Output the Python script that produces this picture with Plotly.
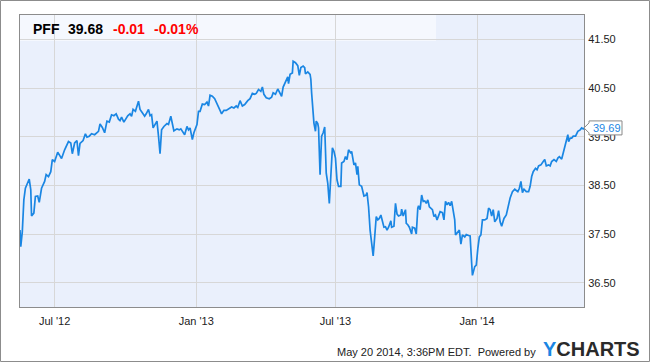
import plotly.graph_objects as go

ticker = "PFF"
last_price = "39.68"
change = "-0.01"
change_pct = "-0.01%"
last_label = 39.69
stamp = "May 20 2014, 3:36PM EDT.  Powered by"

dates = [
    "2012-05-17", "2012-05-18", "2012-05-20", "2012-05-22", "2012-05-24", "2012-05-29", "2012-05-31", "2012-06-01", "2012-06-04", "2012-06-06",
    "2012-06-09", "2012-06-11", "2012-06-14", "2012-06-18", "2012-06-20", "2012-06-23", "2012-06-26", "2012-06-28", "2012-07-01", "2012-07-05",
    "2012-07-07", "2012-07-10", "2012-07-14", "2012-07-19", "2012-07-22", "2012-07-24", "2012-07-27", "2012-07-30", "2012-08-01", "2012-08-03",
    "2012-08-07", "2012-08-10", "2012-08-12", "2012-08-15", "2012-08-18", "2012-08-22", "2012-08-27", "2012-08-29", "2012-09-01", "2012-09-04",
    "2012-09-07", "2012-09-10", "2012-09-13", "2012-09-16", "2012-09-19", "2012-09-22", "2012-09-24", "2012-09-26", "2012-09-29", "2012-10-02",
    "2012-10-04", "2012-10-07", "2012-10-09", "2012-10-11", "2012-10-14", "2012-10-18", "2012-10-20", "2012-10-23", "2012-10-26", "2012-10-28",
    "2012-10-31", "2012-11-02", "2012-11-04", "2012-11-06", "2012-11-09", "2012-11-11", "2012-11-13", "2012-11-15", "2012-11-17", "2012-11-20",
    "2012-11-24", "2012-11-26", "2012-11-29", "2012-12-01", "2012-12-03", "2012-12-07", "2012-12-10", "2012-12-12", "2012-12-15", "2012-12-17",
    "2012-12-20", "2012-12-22", "2012-12-24", "2012-12-26", "2012-12-27", "2012-12-29", "2013-01-02", "2013-01-04", "2013-01-06", "2013-01-09",
    "2013-01-12", "2013-01-15", "2013-01-17", "2013-01-19", "2013-01-22", "2013-01-25", "2013-01-29", "2013-02-01", "2013-02-03", "2013-02-06",
    "2013-02-09", "2013-02-13", "2013-02-16", "2013-02-19", "2013-02-22", "2013-02-24", "2013-02-27", "2013-03-02", "2013-03-05", "2013-03-09",
    "2013-03-12", "2013-03-15", "2013-03-18", "2013-03-20", "2013-03-23", "2013-03-26", "2013-03-28", "2013-03-30", "2013-04-02", "2013-04-06",
    "2013-04-09", "2013-04-11", "2013-04-14", "2013-04-17", "2013-04-19", "2013-04-22", "2013-04-24", "2013-04-27", "2013-04-30", "2013-05-01",
    "2013-05-03", "2013-05-06", "2013-05-07", "2013-05-10", "2013-05-13", "2013-05-15", "2013-05-17", "2013-05-20", "2013-05-22", "2013-05-23",
    "2013-05-26", "2013-05-29", "2013-05-30", "2013-05-31", "2013-06-02", "2013-06-03", "2013-06-05", "2013-06-06", "2013-06-08", "2013-06-09",
    "2013-06-11", "2013-06-13", "2013-06-15", "2013-06-17", "2013-06-19", "2013-06-21", "2013-06-23", "2013-06-25", "2013-06-27", "2013-06-29",
    "2013-07-01", "2013-07-03", "2013-07-05", "2013-07-08", "2013-07-09", "2013-07-12", "2013-07-14", "2013-07-16", "2013-07-18", "2013-07-21",
    "2013-07-22", "2013-07-25", "2013-07-27", "2013-07-29", "2013-07-30", "2013-08-01", "2013-08-04", "2013-08-07", "2013-08-10", "2013-08-11",
    "2013-08-13", "2013-08-15", "2013-08-17", "2013-08-19", "2013-08-20", "2013-08-23", "2013-08-25", "2013-08-27", "2013-08-29", "2013-08-31",
    "2013-09-02", "2013-09-04", "2013-09-06", "2013-09-08", "2013-09-11", "2013-09-12", "2013-09-15", "2013-09-17", "2013-09-19", "2013-09-21",
    "2013-09-24", "2013-09-25", "2013-09-27", "2013-09-30", "2013-10-01", "2013-10-03", "2013-10-05", "2013-10-08", "2013-10-09", "2013-10-12",
    "2013-10-14", "2013-10-16", "2013-10-17", "2013-10-19", "2013-10-21", "2013-10-23", "2013-10-25", "2013-10-27", "2013-10-29", "2013-10-31",
    "2013-11-02", "2013-11-04", "2013-11-06", "2013-11-08", "2013-11-10", "2013-11-12", "2013-11-14", "2013-11-17", "2013-11-19", "2013-11-21",
    "2013-11-23", "2013-11-25", "2013-11-27", "2013-11-29", "2013-12-01", "2013-12-03", "2013-12-04", "2013-12-07", "2013-12-09", "2013-12-11",
    "2013-12-13", "2013-12-16", "2013-12-18", "2013-12-21", "2013-12-23", "2013-12-25", "2013-12-26", "2013-12-29", "2013-12-31", "2014-01-02",
    "2014-01-04", "2014-01-06", "2014-01-08", "2014-01-11", "2014-01-14", "2014-01-16", "2014-01-18", "2014-01-20", "2014-01-22", "2014-01-24",
    "2014-01-27", "2014-01-29", "2014-01-31", "2014-02-02", "2014-02-05", "2014-02-08", "2014-02-10", "2014-02-13", "2014-02-16", "2014-02-19",
    "2014-02-23", "2014-02-25", "2014-02-27", "2014-03-01", "2014-03-03", "2014-03-06", "2014-03-09", "2014-03-11", "2014-03-13", "2014-03-15",
    "2014-03-18", "2014-03-20", "2014-03-22", "2014-03-25", "2014-03-28", "2014-03-30", "2014-04-01", "2014-04-04", "2014-04-06", "2014-04-08",
    "2014-04-11", "2014-04-14", "2014-04-16", "2014-04-18", "2014-04-21", "2014-04-23", "2014-04-25", "2014-04-27", "2014-04-29", "2014-04-30",
    "2014-05-02", "2014-05-04", "2014-05-06", "2014-05-09", "2014-05-12", "2014-05-15", "2014-05-17", "2014-05-19", "2014-05-20",
]

prices = [
    37.58, 37.24, 37.55, 38.20, 38.44, 38.63, 38.41, 37.87, 37.93, 38.27,
    38.28, 38.15, 38.44, 38.58, 38.72, 38.68, 38.78, 39.03, 38.99, 39.18,
    39.13, 39.05, 39.23, 39.40, 39.37, 39.15, 39.37, 39.42, 39.11, 39.36,
    39.42, 39.56, 39.49, 39.51, 39.56, 39.54, 39.61, 39.76, 39.69, 39.58,
    39.82, 39.80, 39.95, 39.93, 39.97, 39.86, 39.83, 39.90, 39.80, 39.87,
    39.93, 39.97, 39.92, 40.06, 40.02, 40.23, 40.06, 39.99, 39.92, 39.97,
    40.06, 39.93, 39.95, 39.68, 39.75, 39.82, 39.51, 39.15, 39.64, 39.71,
    39.77, 39.75, 39.92, 39.75, 39.62, 39.66, 39.64, 39.66, 39.58, 39.54,
    39.71, 39.64, 39.68, 39.47, 39.44, 39.58, 39.75, 40.02, 40.02, 40.17,
    40.16, 40.21, 40.13, 40.35, 40.33, 40.28, 40.16, 40.04, 39.97, 40.04,
    40.04, 40.08, 40.11, 40.09, 40.13, 40.10, 40.24, 40.13, 40.16, 40.24,
    40.28, 40.39, 40.37, 40.39, 40.47, 40.43, 40.52, 40.37, 40.30, 40.28,
    40.31, 40.40, 40.37, 40.48, 40.43, 40.33, 40.52, 40.64, 40.73, 40.59,
    40.78, 40.81, 41.05, 41.02, 40.96, 40.76, 40.92, 40.95, 40.92, 40.79,
    40.83, 40.78, 40.68, 40.40, 39.85, 39.78, 39.61, 39.82, 39.77, 39.68,
    38.72, 39.51, 39.58, 39.70, 38.75, 38.54, 38.13, 38.82, 39.27, 39.20,
    39.06, 38.61, 38.48, 38.48, 38.96, 38.99, 39.09, 39.03, 39.23, 39.16,
    39.20, 38.92, 38.96, 38.72, 38.89, 38.51, 38.48, 38.28, 38.30, 38.35,
    38.06, 37.58, 37.24, 37.05, 37.24, 37.86, 37.79, 37.82, 37.89, 37.75,
    37.64, 37.65, 37.58, 37.64, 37.77, 37.64, 37.66, 38.13, 37.91, 37.87,
    37.89, 38.01, 37.87, 38.00, 37.72, 37.69, 37.64, 37.50, 37.64, 37.62,
    37.50, 38.03, 38.08, 38.00, 38.30, 38.17, 38.18, 38.13, 38.20, 38.06,
    38.03, 38.00, 37.86, 37.89, 37.79, 37.89, 37.96, 37.94, 37.79, 38.17,
    38.10, 38.15, 38.08, 38.17, 37.96, 37.79, 37.48, 37.55, 37.58, 37.29,
    37.48, 37.44, 37.49, 37.47, 37.46, 36.90, 36.65, 36.83, 36.86, 37.20,
    37.44, 37.48, 37.79, 37.79, 37.82, 38.03, 38.00, 37.87, 38.00, 37.75,
    37.82, 37.98, 37.75, 37.66, 37.82, 37.89, 38.03, 38.24, 38.37, 38.42,
    38.37, 38.44, 38.58, 38.35, 38.42, 38.37, 38.37, 38.48, 38.68, 38.78,
    38.85, 38.82, 38.90, 38.92, 38.99, 39.03, 38.90, 38.92, 38.90, 38.99,
    39.03, 38.99, 39.06, 39.09, 39.04, 39.16, 39.27, 39.37, 39.54, 39.40,
    39.47, 39.47, 39.51, 39.51, 39.61, 39.64, 39.68, 39.66, 39.68,
]

x_tick_vals = ["2012-07-01", "2013-01-01", "2013-07-01", "2014-01-01"]
x_tick_text = ["Jul '12", "Jan '13", "Jul '13", "Jan '14"]
y_tick_vals = [36.5, 37.5, 38.5, 39.5, 40.5, 41.5]
x_range = ["2012-05-17", "2014-05-20"]
y_range = [36.0, 42.0]

assert len(dates) == len(prices)

BLUE = "#1a86e3"
FONT = "Liberation Sans, Arial, sans-serif"

fig = go.Figure()
fig.add_trace(go.Scatter(
    x=dates, y=prices, mode="lines",
    line=dict(color=BLUE, width=1.7),
    hoverinfo="skip",
))

fig.update_layout(
    width=650, height=362,
    margin=dict(l=20, r=66, t=15, b=55),
    paper_bgcolor="white",
    plot_bgcolor="#eaf0fc",
    showlegend=False,
    font=dict(family=FONT, size=11, color="#222"),
)

fig.update_xaxes(
    type="date", range=x_range,
    tickmode="array", tickvals=x_tick_vals, ticktext=x_tick_text,
    showgrid=True, gridcolor="#d7d7d7", gridwidth=1,
    showline=True, linecolor="#8c8c8c", linewidth=1, mirror=True,
    ticks="outside", ticklen=4, tickcolor="rgba(0,0,0,0)",
    tickfont=dict(family=FONT, size=11, color="#222"),
    zeroline=False,
)
fig.update_yaxes(
    range=y_range, side="right",
    tickmode="array", tickvals=y_tick_vals,
    tickformat=".2f",
    showgrid=True, gridcolor="#d7d7d7", gridwidth=1,
    showline=True, linecolor="#8c8c8c", linewidth=1, mirror=True,
    ticks="outside", ticklen=1, tickcolor="rgba(0,0,0,0)",
    tickfont=dict(family=FONT, size=11, color="#222"),
    zeroline=False,
)

# header band
fig.add_shape(type="rect", xref="paper", yref="paper",
              x0=0, x1=0.7376, y0=0.911, y1=1.0,
              fillcolor="#f5f8fe", line_width=0, layer="below")

# outer frame
fig.add_shape(type="rect", xref="paper", yref="paper",
              x0=-19.5 / 564, x1=629.5 / 564, y0=-54.5 / 292, y1=306.5 / 292,
              line=dict(color="#8c8c8c", width=1), fillcolor="rgba(0,0,0,0)")

# callout for last value
fig.add_shape(type="path", xref="paper", yref="y",
              xsizemode="pixel", ysizemode="pixel",
              xanchor=1, yanchor=prices[-1],
              path="M0,0 L5,5 L5,7 L38,7 L38,-7 L5,-7 L5,-5 Z",
              fillcolor="white", line=dict(color="#888", width=1))
fig.add_annotation(xref="paper", yref="y", x=1, y=prices[-1],
                   xanchor="left", yanchor="middle", xshift=7,
                   text=f"{last_label:.2f}", showarrow=False,
                   font=dict(family=FONT, size=11, color=BLUE))

# header texts
hy = (307 - 29) / 292
for txt, px, col in [(ticker, 30.5, "#000"), (last_price, 66, "#000"),
                     (change, 111, "#ff0000"), (change_pct, 151.5, "#ff0000")]:
    fig.add_annotation(xref="paper", yref="paper", x=(px - 20) / 564, y=hy,
                       xanchor="left", yanchor="middle", showarrow=False,
                       text=f"<b>{txt}</b>",
                       font=dict(family=FONT, size=14, color=col))

# footer
fig.add_annotation(xref="paper", yref="paper", x=(538 - 20) / 564, y=(307 - 352) / 292,
                   xanchor="right", yanchor="middle", showarrow=False,
                   text=stamp, font=dict(family=FONT, size=11, color="#222"))
fig.add_annotation(xref="paper", yref="paper", x=(642 - 20) / 564, y=(307 - 349) / 292,
                   xanchor="right", yanchor="middle", showarrow=False,
                   text="<b><span style='color:#1a86e3'>Y</span>CHARTS</b>",
                   font=dict(family=FONT, size=20, color="#2a2a2a"))

fig.write_html("out.html")
